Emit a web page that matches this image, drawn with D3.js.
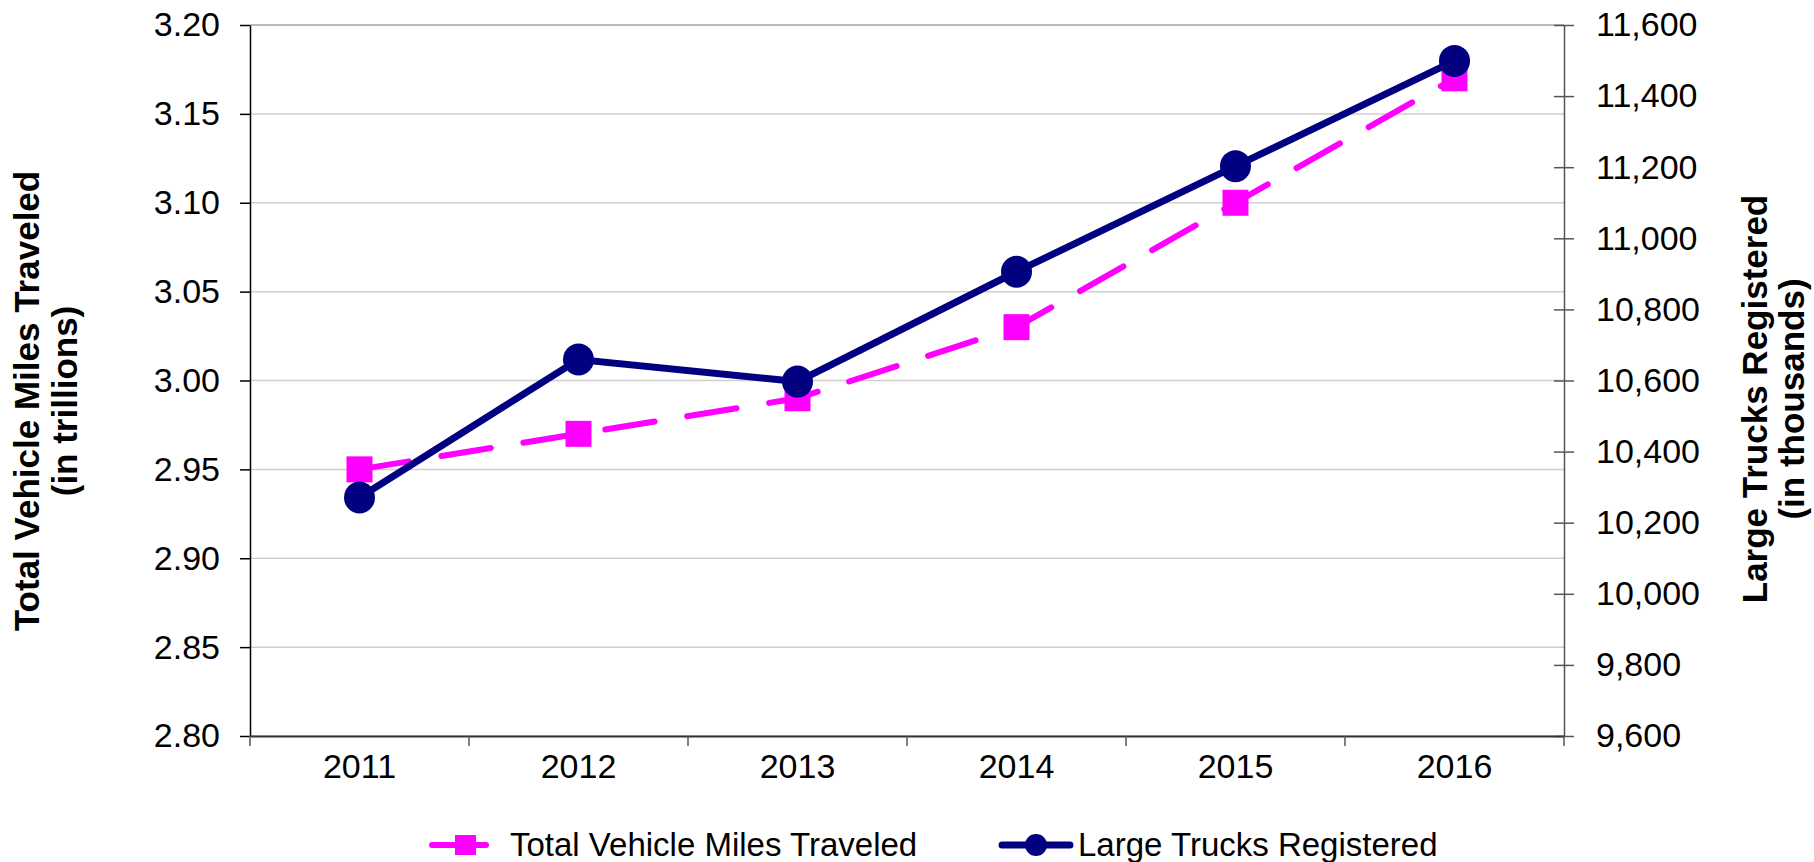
<!DOCTYPE html>
<html>
<head>
<meta charset="utf-8">
<script src="https://d3js.org/d3.v7.min.js"></script>
<style>
  body { margin: 0; background: #fff; }
  text { font-family: Arial, "Liberation Sans", sans-serif; fill: #000; }
  .axis text { font-size: 34px; }
  .axis path, .axis line { stroke: #555; stroke-width: 1.5px; }
  .title { font-size: 35px; font-weight: bold; }
  .legend text { font-size: 33px; }
</style>
</head>
<body>
<script>

// data
var years = ["2011", "2012", "2013", "2014", "2015", "2016"]
var vmt = [2.95, 2.97, 2.99, 3.03, 3.10, 3.17]
var trucks = [10271, 10659, 10597, 10906, 11203, 11499]

// tick labels
var leftTicks = [2.80, 2.85, 2.90, 2.95, 3.00, 3.05, 3.10, 3.15, 3.20]
var rightTicks = [9600, 9800, 10000, 10200, 10400, 10600, 10800, 11000, 11200, 11400, 11600]

var seriesNames = ["Total Vehicle Miles Traveled", "Large Trucks Registered"]

window.onload = function() {
  drawChart()
}

function drawChart() {
  var svgWidth = 1814,
      svgHeight = 862;

  // plot area
  var left = 250, right = 1564, top = 25, bottom = 736;

  var svg = d3.select("body")
    .append("svg")
    .attr("width", svgWidth)
    .attr("height", svgHeight);

  // scales
  var xscale = d3.scaleBand()
    .domain(years)
    .range([left, right])
    .padding(0);

  var yLeft = d3.scaleLinear()
    .domain([2.80, 3.20])
    .range([bottom, top]);

  var yRight = d3.scaleLinear()
    .domain([9600, 11600])
    .range([bottom, top]);

  // gridlines
  svg.append("g")
    .selectAll("line")
    .data(leftTicks)
    .enter()
    .append("line")
    .attr("x1", left)
    .attr("x2", right)
    .attr("y1", function(d) { return yLeft(d); })
    .attr("y2", function(d) { return yLeft(d); })
    .style("stroke", function(d, i) { return i == leftTicks.length - 1 ? "#bbb" : "#cfcfcf"; })
    .style("stroke-width", function(d, i) { return i == leftTicks.length - 1 ? 2 : 1.5; });

  // left axis
  svg.append("g")
    .attr("class", "axis")
    .attr("transform", "translate(" + left + ",0)")
    .call(d3.axisLeft(yLeft)
      .tickValues(leftTicks)
      .tickSize(10)
      .tickPadding(20)
      .tickSizeOuter(0)
      .tickFormat(d3.format(".2f")))
    .selectAll("path, line").style("stroke", "#000");

  // right axis, ticks cross the line
  var rAxis = svg.append("g")
    .attr("class", "axis")
    .attr("transform", "translate(" + right + ",0)")
    .call(d3.axisRight(yRight)
      .tickValues(rightTicks)
      .tickSize(10)
      .tickPadding(22)
      .tickSizeOuter(0)
      .tickFormat(d3.format(",")));
  rAxis.selectAll(".tick line").attr("x1", -10);

  // x axis, ticks on category boundaries
  var xAxis = svg.append("g")
    .attr("class", "axis")
    .attr("transform", "translate(0," + bottom + ")")
    .call(d3.axisBottom(xscale)
      .tickSize(0)
      .tickPadding(18)
      .tickSizeOuter(0));
  xAxis.select(".domain").style("stroke", "#333").style("stroke-width", 2);

  var bounds = years.map(function(d) { return xscale(d); }).concat([right]);
  xAxis.selectAll(".bound")
    .data(bounds)
    .enter()
    .append("line")
    .attr("class", "bound")
    .attr("x1", function(d) { return d; })
    .attr("x2", function(d) { return d; })
    .attr("y1", 0)
    .attr("y2", 10);

  var cx = function(d, i) { return xscale(years[i]) + xscale.bandwidth() / 2; };

  // miles traveled line, dashed magenta
  var vmtLine = d3.line()
    .x(function(d, i) { return cx(d, i); })
    .y(function(d) { return yLeft(d); });

  svg.append("path")
    .datum(vmt)
    .attr("d", vmtLine)
    .style("fill", "none")
    .style("stroke", "#ff00ff")
    .style("stroke-width", 6)
    .style("stroke-linecap", "round")
    .style("stroke-dasharray", "50,33");

  svg.selectAll(".sq")
    .data(vmt)
    .enter()
    .append("rect")
    .attr("class", "sq")
    .attr("x", function(d, i) { return cx(d, i) - 13; })
    .attr("y", function(d) { return yLeft(d) - 13; })
    .attr("width", 26)
    .attr("height", 26)
    .style("fill", "#ff00ff");

  // trucks line, solid navy
  var truckLine = d3.line()
    .x(function(d, i) { return cx(d, i); })
    .y(function(d) { return yRight(d); });

  svg.append("path")
    .datum(trucks)
    .attr("d", truckLine)
    .style("fill", "none")
    .style("stroke", "#000080")
    .style("stroke-width", 7);

  svg.selectAll(".dot")
    .data(trucks)
    .enter()
    .append("ellipse")
    .attr("class", "dot")
    .attr("cx", function(d, i) { return cx(d, i); })
    .attr("cy", function(d) { return yRight(d); })
    .attr("rx", 15.5)
    .attr("ry", 16)
    .style("fill", "#000080");

  // axis titles
  var lt = svg.append("text")
    .attr("class", "title")
    .attr("text-anchor", "middle")
    .attr("transform", "translate(39,401) rotate(-90)");
  lt.append("tspan").attr("x", 0).attr("y", 0).text("Total Vehicle Miles Traveled");
  lt.append("tspan").attr("x", 0).attr("y", 38).text("(in trillions)");

  var rt = svg.append("text")
    .attr("class", "title")
    .attr("text-anchor", "middle")
    .attr("transform", "translate(1767,399) rotate(-90)");
  rt.append("tspan").attr("x", 0).attr("y", 0).text("Large Trucks Registered");
  rt.append("tspan").attr("x", 0).attr("y", 37).text("(in thousands)");

  // legend
  var legend = svg.append("g").attr("class", "legend");

  var l1 = legend.append("g").attr("transform", "translate(429,845)");
  l1.append("line")
    .attr("x1", 3).attr("x2", 57).attr("y1", 0).attr("y2", 0)
    .style("stroke", "#ff00ff").style("stroke-width", 6).style("stroke-linecap", "round");
  l1.append("rect")
    .attr("x", 26).attr("y", -10).attr("width", 21).attr("height", 20)
    .style("fill", "#ff00ff");
  l1.append("text").attr("x", 81).attr("y", 11).text(seriesNames[0]);

  var l2 = legend.append("g").attr("transform", "translate(999,845)");
  l2.append("line")
    .attr("x1", 3).attr("x2", 71).attr("y1", 0).attr("y2", 0)
    .style("stroke", "#000080").style("stroke-width", 7).style("stroke-linecap", "round");
  l2.append("circle")
    .attr("cx", 37).attr("cy", 0).attr("r", 11)
    .style("fill", "#000080");
  l2.append("text").attr("x", 79).attr("y", 11).text(seriesNames[1]);
}

</script>
</body>
</html>
